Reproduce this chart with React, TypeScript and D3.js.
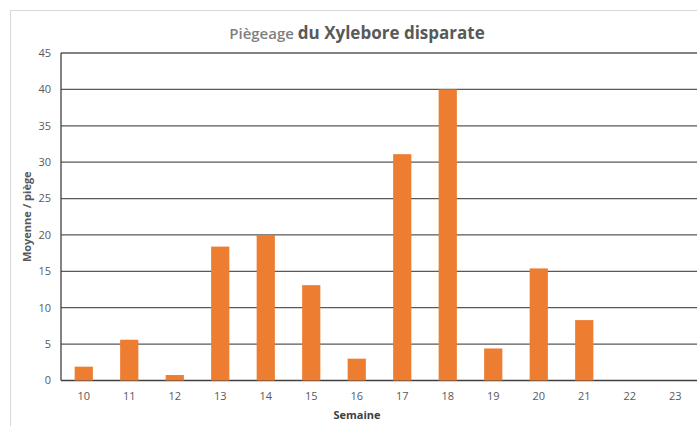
import React from 'react';
import * as d3 from 'd3';

const WEEKS = ['10', '11', '12', '13', '14', '15', '16', '17', '18', '19', '20', '21', '22', '23'];
const MEANS = [1.9, 5.6, 0.75, 18.4, 20.0, 13.1, 3.0, 31.1, 40.0, 4.4, 15.4, 8.3, 0, 0];
const Y_TICKS = [0, 5, 10, 15, 20, 25, 30, 35, 40, 45];

const W = 697;
const H = 426;
const FONT = "'Open Sans', 'Noto Sans', sans-serif";

export default function App() {
  const margin = { top: 53, left: 61, bottom: 45.5 };
  const plotRight = 698;
  const plotBottom = H - margin.bottom;

  const x = d3.scaleBand<string>()
    .domain(WEEKS)
    .range([margin.left, plotRight])
    .paddingInner(0.6)
    .paddingOuter(0.3);

  const y = d3.scaleLinear().domain([0, 45]).range([plotBottom, margin.top]);

  const data = WEEKS.map((w, i) => ({ week: w, value: MEANS[i] }));

  return (
    <svg width={W} height={H} style={{ position: 'absolute', left: 0, top: 0, background: '#fff' }}>
      {/* chart frame */}
      <rect x={10.5} y={10.5} width={W + 10} height={H + 10} fill="#fff" stroke="#d9d9d9" />

      <text x={357} y={39} textAnchor="middle" fontFamily={FONT} fill="#595959">
        <tspan fontSize={15} fill="#7f7f7f" fontWeight={600}>Piègeage </tspan>
        <tspan fontSize={17} fontWeight={700}>du Xylebore disparate</tspan>
      </text>

      {/* gridlines */}
      {Y_TICKS.map(t => (
        <line key={t} x1={margin.left} x2={plotRight} y1={y(t)} y2={y(t)}
          stroke={t === 0 ? '#404040' : '#595959'} strokeWidth={1.3} />
      ))}
      <line x1={margin.left} x2={margin.left} y1={margin.top} y2={plotBottom} stroke="#404040" strokeWidth={1.3} />

      {Y_TICKS.map(t => (
        <text key={t} x={margin.left - 10} y={y(t)} dy="0.35em" textAnchor="end"
          fontFamily={FONT} fontSize={11} fill="#595959">{t}</text>
      ))}

      {data.map(d => (
        <rect key={d.week} x={x(d.week)!} width={x.bandwidth()} y={y(d.value)}
          height={plotBottom - y(d.value)} fill="#ED7D31" />
      ))}

      {WEEKS.map(w => (
        <text key={w} x={x(w)! + x.bandwidth() / 2} y={plotBottom + 19} textAnchor="middle"
          fontFamily={FONT} fontSize={11} fill="#595959">{w}</text>
      ))}

      <text x={357} y={419} textAnchor="middle" fontFamily={FONT} fontSize={11}
        fontWeight={700} fill="#404040">Semaine</text>

      <text transform={`translate(31,${(margin.top + plotBottom) / 2}) rotate(-90)`} textAnchor="middle"
        fontFamily={FONT} fontSize={11} fontWeight={700} fill="#595959">Moyenne / piège</text>
    </svg>
  );
}
